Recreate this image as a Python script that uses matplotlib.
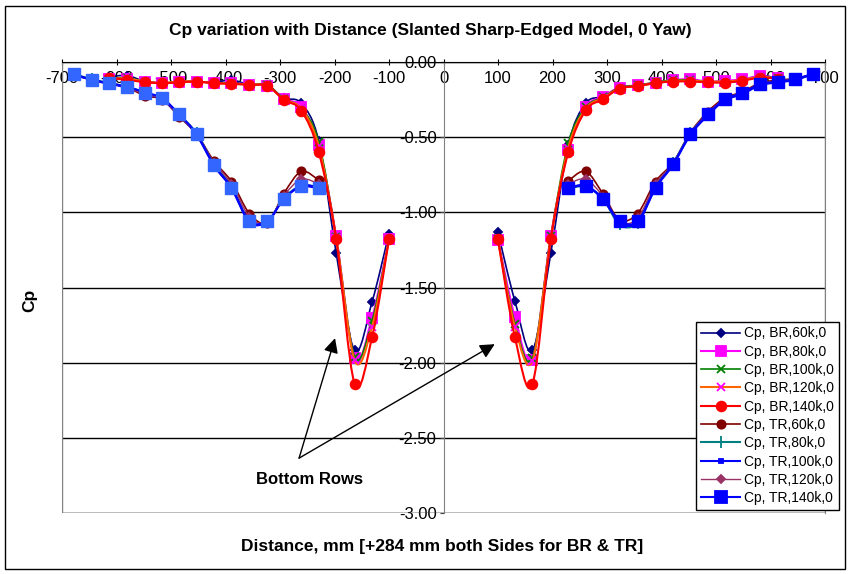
import numpy as np
import matplotlib
matplotlib.use("Agg")
import matplotlib.pyplot as plt
from matplotlib.path import Path
from matplotlib.patches import PathPatch, Rectangle
from matplotlib.lines import Line2D

plt.rcParams['font.family'] = ['Liberation Sans Narrow', 'Liberation Sans', 'DejaVu Sans']

nan = np.nan

# tap positions (mm), gap between the two sides
br_x = [-614, -581, -547, -516, -485, -453, -421, -389, -356, -323, -293, -261, -229, -197, -163, -131, -100,
        nan, 100, 131, 163, 197, 229, 261, 293, 323, 356, 389, 421, 453, 485, 516, 547, 581, 614]
tr_x = [-678, -645, -614, -581, -547, -516, -485, -453, -421, -389, -356, -323, -293, -261, -229,
        nan, 229, 261, 293, 323, 356, 389, 421, 453, 485, 516, 547, 581, 614, 645, 678]

# bottom row
br60 = [-0.10, -0.09, -0.13, -0.14, -0.135, -0.13, -0.135, -0.12, -0.15, -0.155, -0.24, -0.275, -0.525, -1.268, -1.919, -1.595, -1.141,
        nan, -1.134, -1.59, -1.919, -1.268, -0.55, -0.275, -0.23, -0.17, -0.16, -0.14, -0.13, -0.125, -0.13, -0.135, -0.125, -0.09, -0.11]
br80 = [-0.11, -0.11, -0.13, -0.14, -0.135, -0.13, -0.14, -0.14, -0.15, -0.16, -0.245, -0.30, -0.555, -1.16, -1.97, -1.70, -1.18,
        nan, -1.185, -1.697, -1.979, -1.157, -0.585, -0.30, -0.23, -0.17, -0.155, -0.137, -0.12, -0.115, -0.13, -0.125, -0.115, -0.095, -0.105]
br100 = [-0.11, -0.105, -0.13, -0.14, -0.13, -0.13, -0.14, -0.14, -0.15, -0.155, -0.245, -0.31, -0.53, -1.165, -1.96, -1.72, -1.18,
         nan, -1.18, -1.74, -1.97, -1.16, -0.54, -0.30, -0.235, -0.17, -0.155, -0.135, -0.12, -0.12, -0.13, -0.13, -0.12, -0.10, -0.105]
br120 = [-0.11, -0.11, -0.13, -0.14, -0.13, -0.13, -0.14, -0.145, -0.15, -0.16, -0.25, -0.31, -0.56, -1.17, -1.985, -1.76, -1.18,
         nan, -1.19, -1.76, -1.99, -1.17, -0.57, -0.31, -0.24, -0.175, -0.16, -0.14, -0.125, -0.125, -0.13, -0.13, -0.12, -0.10, -0.11]
br140 = [-0.105, -0.119, -0.134, -0.141, -0.135, -0.13, -0.141, -0.145, -0.152, -0.159, -0.252, -0.323, -0.597, -1.179, -2.141, -1.83, -1.179,
         nan, -1.18, -1.83, -2.145, -1.18, -0.599, -0.321, -0.248, -0.177, -0.16, -0.14, -0.13, -0.13, -0.135, -0.137, -0.125, -0.105, -0.11]

# top row
tr60 = [-0.08, -0.12, -0.14, -0.17, -0.225, -0.25, -0.363, -0.48, -0.66, -0.795, -1.008, -1.07, -0.875, -0.728, -0.785,
        nan, -0.79, -0.728, -0.879, -1.05, -1.008, -0.795, -0.67, -0.47, -0.33, -0.24, -0.20, -0.14, -0.12, -0.11, -0.08]
tr80 = [-0.08, -0.115, -0.14, -0.165, -0.205, -0.245, -0.35, -0.475, -0.68, -0.83, -1.06, -1.06, -0.905, -0.825, -0.83,
        nan, -0.84, -0.83, -0.91, -1.08, -1.07, -0.83, -0.675, -0.475, -0.345, -0.25, -0.21, -0.15, -0.13, -0.115, -0.08]
tr100 = [-0.085, -0.12, -0.145, -0.17, -0.21, -0.25, -0.355, -0.485, -0.69, -0.84, -1.065, -1.06, -0.91, -0.83, -0.84,
         nan, -0.84, -0.825, -0.915, -1.065, -1.07, -0.84, -0.685, -0.485, -0.355, -0.255, -0.215, -0.155, -0.135, -0.12, -0.08]
tr120 = [-0.08, -0.12, -0.14, -0.17, -0.215, -0.245, -0.36, -0.48, -0.67, -0.81, -1.03, -1.065, -0.89, -0.78, -0.81,
         nan, -0.81, -0.78, -0.895, -1.06, -1.04, -0.81, -0.675, -0.475, -0.34, -0.245, -0.205, -0.145, -0.125, -0.115, -0.08]
tr140 = [-0.081, -0.119, -0.14, -0.165, -0.203, -0.241, -0.348, -0.48, -0.686, -0.835, -1.057, -1.057, -0.912, -0.823, -0.835,
         nan, -0.835, -0.823, -0.912, -1.055, -1.06, -0.835, -0.68, -0.48, -0.348, -0.248, -0.208, -0.148, -0.13, -0.115, -0.077]

x_ticks = list(range(-700, 701, 100))
y_ticks = [0.0, -0.5, -1.0, -1.5, -2.0, -2.5, -3.0]


def smooth_path(x, y):
    # excel-like smoothed line (bezier through the points)
    x = np.asarray(x, float)
    y = np.asarray(y, float)
    idx = np.where(~np.isnan(x) & ~np.isnan(y))[0]
    runs = np.split(idx, np.where(np.diff(idx) != 1)[0] + 1)
    verts, codes = [], []
    for run in runs:
        p = np.column_stack([x[run], y[run]])
        n = len(p)
        verts.append(p[0])
        codes.append(Path.MOVETO)
        for i in range(n - 1):
            p0 = p[max(i - 1, 0)]
            p1 = p[i]
            p2 = p[i + 1]
            p3 = p[min(i + 2, n - 1)]
            verts += [p1 + (p2 - p0) / 6, p2 - (p3 - p1) / 6, p2]
            codes += [Path.CURVE4] * 3
    return Path(verts, codes)


# label, x, y, line colour, marker, size, marker face, marker edge, line width
series = [
    ('Cp, BR,60k,0', br_x, br60, '#000080', 'D', 4.5, '#000080', '#000080', 1.2),
    ('Cp, BR,80k,0', br_x, br80, '#FF00FF', 's', 6.5, '#FF00FF', '#FF00FF', 1.5),
    ('Cp, BR,100k,0', br_x, br100, '#008000', 'x', 6, 'none', '#008000', 1.2),
    ('Cp, BR,120k,0', br_x, br120, '#FF6600', 'x', 6, 'none', '#FF00FF', 1.5),
    ('Cp, BR,140k,0', br_x, br140, '#FF0000', 'o', 7, '#FF0000', '#FF0000', 1.5),
    ('Cp, TR,60k,0', tr_x, tr60, '#800000', 'o', 6, '#800000', '#800000', 1.2),
    ('Cp, TR,80k,0', tr_x, tr80, '#008080', '+', 8, 'none', '#008080', 1.5),
    ('Cp, TR,100k,0', tr_x, tr100, '#0000FF', 's', 3.5, '#0000FF', '#0000FF', 1.5),
    ('Cp, TR,120k,0', tr_x, tr120, '#993366', 'D', 4, '#993366', '#993366', 1.0),
    ('Cp, TR,140k,0', tr_x, tr140, '#0000FF', 's', 8, '#0000FF', '#0000FF', 1.5),
]

fig = plt.figure(figsize=(8.51, 5.74), dpi=100)
ax = fig.add_axes([62 / 851, 1 - 513 / 574, (825 - 62) / 851, (513 - 62) / 574])
ax.set_xlim(-700, 700)
ax.set_ylim(-3, 0)

handles = []
for k, (lab, xs, ys, col, mk, ms, mfc, mec, lw) in enumerate(series):
    z = 3 + k
    ax.add_patch(PathPatch(smooth_path(xs, ys), fill=False, edgecolor=col, lw=lw, zorder=z))
    xa = np.asarray(xs, float)
    ya = np.asarray(ys, float)
    if lab == 'Cp, TR,140k,0':
        left = xa < 0
        ax.plot(xa[left], ya[left], ls='none', marker=mk, ms=ms, mfc='#3366FF', mec='#3366FF', zorder=z)
        ax.plot(xa[~left], ya[~left], ls='none', marker=mk, ms=ms, mfc=mfc, mec=mec, zorder=z)
    else:
        ax.plot(xa, ya, ls='none', marker=mk, ms=ms, mfc=mfc, mec=mec, mew=1.3, zorder=z)
    handles.append(Line2D([], [], color=col, lw=lw, marker=mk, ms=ms, mfc=mfc, mec=mec, mew=1.3, label=lab))

# axes styling: x axis sits on the Cp=0 line, y axis on distance=0
ax.spines['bottom'].set_position(('data', 0))
ax.spines['bottom'].set_color('black')
ax.spines['left'].set_position(('data', 0))
ax.spines['left'].set_color('#808080')
ax.spines['top'].set_visible(False)
ax.spines['right'].set_color('#808080')
ax.add_patch(Rectangle((0, 0), 1, 1, transform=ax.transAxes, fill=False, ec='#808080', lw=1, zorder=1))

ax.set_xticks(x_ticks)
ax.set_xticklabels([str(v) for v in x_ticks])
ax.set_yticks(y_ticks)
ax.set_yticklabels(['%.2f' % v for v in y_ticks])
ax.tick_params(axis='x', direction='inout', length=5, pad=4, labelsize=12, color='black')
ax.tick_params(axis='y', direction='out', length=3, pad=2, labelsize=12, color='#404040')
ax.yaxis.grid(True, color='black', lw=1)
ax.set_axisbelow(True)

# annotation
arrow = dict(arrowstyle='-|>', color='black', lw=1, mutation_scale=22, shrinkA=0, shrinkB=0)
ax.annotate('', xy=(-199, -1.837), xytext=(-265, -2.635), arrowprops=arrow, zorder=20)
ax.annotate('', xy=(94, -1.877), xytext=(-265, -2.635), arrowprops=arrow, zorder=20)
ax.text(-245, -2.777, 'Bottom Rows', ha='center', va='center', fontsize=12, fontweight='bold')

fig.text(430 / 851, 1 - 30 / 574, 'Cp variation with Distance (Slanted Sharp-Edged Model, 0 Yaw)',
         ha='center', va='center', fontsize=12.5, fontweight='bold')
fig.text(442 / 851, 1 - 547 / 574, 'Distance, mm [+284 mm both Sides for BR & TR]',
         ha='center', va='center', fontsize=12.5, fontweight='bold')
fig.text(30 / 851, 1 - 300 / 574, 'Cp', rotation=90, ha='center', va='center', fontsize=12.5, fontweight='bold')

leg = fig.legend(handles=handles, loc='lower right', bbox_to_anchor=(839 / 851, 1 - 510 / 574),
                 bbox_transform=fig.transFigure, fontsize=10, frameon=True, fancybox=False,
                 edgecolor='black', framealpha=1, handlelength=2.8, labelspacing=0.31,
                 borderpad=0.35, handletextpad=0.3, borderaxespad=0)
leg.get_frame().set_linewidth(1)

fig.add_artist(Rectangle((5 / 851, 5 / 574), 840 / 851, 563 / 574, transform=fig.transFigure,
                         fill=False, ec='black', lw=1))

fig.savefig('out.png', dpi=100)
